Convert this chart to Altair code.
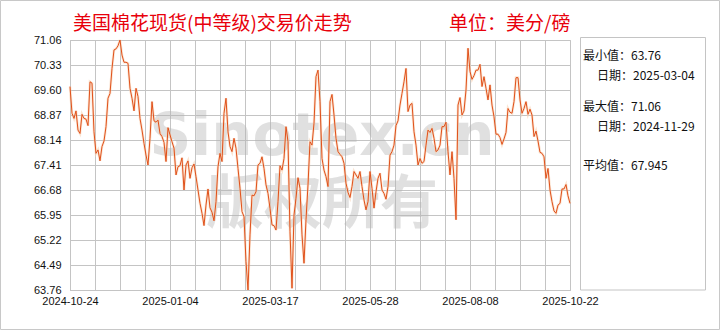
import altair as alt
import pandas as pd

title_text = "美国棉花现货(中等级)交易价走势"
unit_text = "单位：美分/磅"
x_tick_index = [0, 50, 100, 150, 200, 250]
x_tick_labels = ["2024-10-24", "2025-01-04", "2025-03-17", "2025-05-28", "2025-08-08", "2025-10-22"]
y_ticks = [63.76, 64.49, 65.22, 65.95, 66.68, 67.41, 68.14, 68.87, 69.60, 70.33, 71.06]
stat_lines = ["最小值：63.76", "日期：2025-03-04", "最大值：71.06", "日期：2024-11-29", "平均值：67.945"]
watermark_lines = ["Sinotex.cn", "版权所有"]

prices = [
    69.70, 68.92, 68.77, 68.99, 68.43, 68.33, 68.89, 68.77, 68.75, 68.56,
    69.84, 69.80, 68.38, 67.75, 67.85, 67.53, 67.95, 68.11, 68.53, 69.36,
    69.50, 70.23, 70.77, 70.80, 70.89, 71.06, 70.62, 70.41, 70.41, 70.38,
    69.65, 69.36, 68.99, 69.65, 69.41, 68.77, 68.43, 68.04, 67.70, 67.41,
    68.19, 69.26, 68.70, 68.66, 68.72, 68.33, 68.24, 68.07, 67.51, 68.50,
    68.29,
    68.09, 67.90, 67.12, 67.36, 67.39, 67.62, 66.68, 67.41, 67.53, 67.02,
    67.33, 67.44, 67.07, 66.68, 66.29, 66.00, 65.64, 66.24, 66.71, 66.16,
    66.03, 65.78, 66.34, 67.36, 67.75, 67.51, 68.92, 69.36, 68.38, 67.95,
    67.80, 68.19, 67.90, 67.31, 66.73, 66.05, 65.90, 64.59, 63.76, 65.37,
    66.53, 66.51, 66.63, 67.41, 67.46, 67.65, 67.31, 66.83, 66.58, 66.14,
    65.66, 65.64, 65.51, 66.34, 67.39, 67.26, 67.60, 68.53, 68.09, 65.46,
    63.81, 65.95, 66.44, 67.04, 66.73, 65.37, 64.54, 65.81, 66.83, 68.09,
    67.99, 68.63, 69.99, 70.18, 69.26, 67.60, 67.26, 67.07, 66.78, 69.26,
    69.47, 68.87, 68.19, 67.80, 67.72, 67.65, 67.46, 66.88, 66.61, 66.46,
    66.78, 67.22, 67.12, 67.02, 67.22, 66.78, 66.39, 66.10, 66.34, 67.22,
    66.73, 66.15, 66.63, 67.02, 67.17, 66.68, 66.58, 66.41, 66.78, 67.70,
    67.80, 67.99, 68.56, 68.70, 69.16, 69.50, 69.84, 70.23, 68.97, 69.16,
    69.21, 68.38, 67.99, 67.41, 67.60, 67.46, 67.51, 67.99, 68.43, 68.36,
    68.48, 68.19, 67.80, 67.85, 67.99, 68.53, 68.53, 68.66, 67.80, 67.12,
    67.80, 67.02, 65.81, 69.16, 69.38, 68.87, 68.99, 69.60, 70.82, 70.14,
    69.91, 70.02, 70.18, 70.18, 70.35, 69.70, 69.99, 69.65, 69.31, 69.75,
    69.16, 68.82, 68.31, 68.31, 68.21, 68.01, 68.17, 68.36, 69.06, 68.95,
    68.92, 69.26, 69.96, 69.96, 69.31, 68.92, 69.06, 69.26, 68.89, 69.04,
    68.87, 68.24, 68.40, 68.11, 67.78, 67.75, 67.65, 67.02, 67.31, 66.68,
    66.34, 66.07, 66.00, 66.24, 66.29, 66.71, 66.71, 66.84, 66.51, 66.29,
]

df = pd.DataFrame({"idx": list(range(len(prices))), "price": prices})

n_last = len(prices) - 1
grid_x = [i * n_last / 20 for i in range(21)]

expr = "''"
for v, lab in reversed(list(zip(x_tick_index, x_tick_labels))):
    expr = f"datum.value == {v} ? '{lab}' : ({expr})"

GRID = "#c4c4c4"
LABEL_FONT = "Liberation Sans"
CJK = "Noto Sans CJK SC"

x_enc = alt.X(
    "idx:Q",
    scale=alt.Scale(domain=[0, n_last], nice=False, zero=False),
    axis=alt.Axis(
        values=grid_x, labelExpr=expr, title=None, ticks=False, grid=True,
        gridColor=GRID, domainColor=GRID, labelFlush=False, labelOverlap=False,
        labelPadding=5, labelFont=LABEL_FONT, labelFontSize=11, labelColor="#111",
    ),
)
y_enc = alt.Y(
    "price:Q",
    scale=alt.Scale(domain=[y_ticks[0], y_ticks[-1]], nice=False, zero=False),
    axis=alt.Axis(
        values=y_ticks, format=".2f", title=None, ticks=False, grid=True,
        gridColor=GRID, domainColor=GRID, labelPadding=9, labelFont=LABEL_FONT,
        labelFontSize=11, labelColor="#111", labelFlush=False,
    ),
)

one = pd.DataFrame({"t": [0]})


def text_layer(txt, x, y, **kw):
    return alt.Chart(pd.DataFrame({"t": [txt]})).mark_text(**kw).encode(
        text="t:N", x=alt.value(x), y=alt.value(y)
    )


frame = alt.Chart(one).mark_rect(fillOpacity=0, stroke="#c8c8c8", strokeWidth=1).encode(
    x=alt.value(-69.5), x2=alt.value(649.5), y=alt.value(-39.5), y2=alt.value(289.5)
)
stats_box = alt.Chart(one).mark_rect(fillOpacity=0, stroke="#c4c4c4", strokeWidth=1).encode(
    x=alt.value(510.5), x2=alt.value(635.5), y=alt.value(-2.5), y2=alt.value(250)
)

watermark = alt.Chart(one).mark_text(
    font="DejaVu Sans, Noto Sans CJK SC", fontWeight="bold", fontSize=58,
    lineHeight=68, color="#b4b4b4", opacity=0.4, align="center", baseline="alphabetic",
).encode(text=alt.value(watermark_lines), x=alt.value(252), y=alt.value(115))

glow = alt.Chart(df).mark_line(color="#f7cfae", strokeWidth=2.6, opacity=0.55).encode(x=x_enc, y=y_enc)
line = alt.Chart(df).mark_line(color="#e0501a", strokeWidth=1).encode(x=x_enc, y=y_enc)

title = text_layer(title_text, 3, -16, font=CJK, fontSize=19, color="#e8000b",
                   align="left", baseline="middle")
unit = text_layer(unit_text, 379, -16, font=CJK, fontSize=19, color="#e8000b",
                  align="left", baseline="middle")

stat_pos = [(513, 16), (527, 36), (513, 67), (527, 87), (513, 126)]
stats = [
    text_layer(s, px, py, font=CJK, fontSize=12, color="#111", align="left", baseline="middle")
    for s, (px, py) in zip(stat_lines, stat_pos)
]

chart = alt.layer(
    frame, stats_box, watermark, glow, line, title, unit, *stats
).properties(
    width=500, height=250,
    autosize=alt.AutoSizeParams(type="none"),
    padding={"left": 70, "top": 40, "right": 150, "bottom": 40},
    background="white",
).configure_view(stroke=GRID)

chart.save("out.html", embed_options={"renderer": "svg", "actions": False})
